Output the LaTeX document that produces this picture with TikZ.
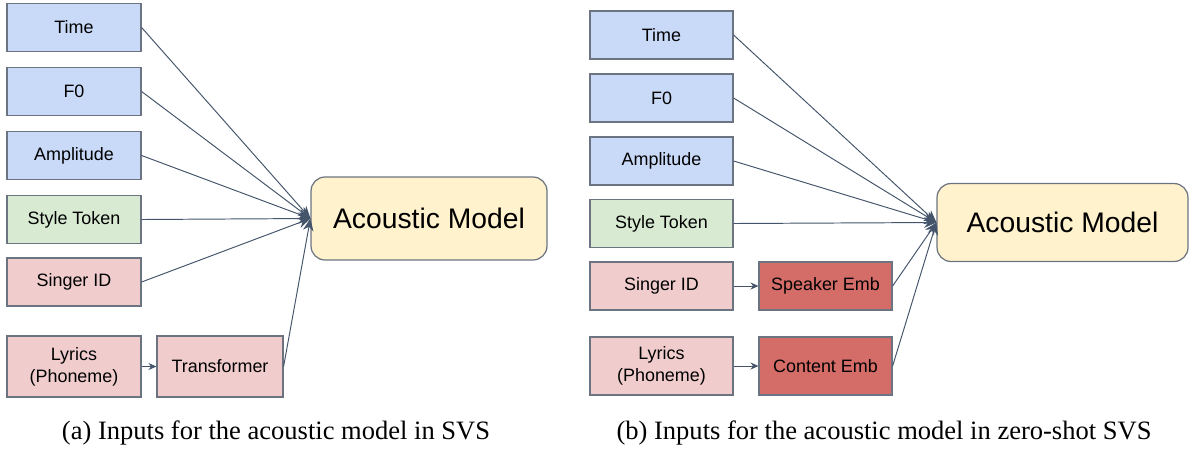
\documentclass[tikz,border=0pt]{standalone}
\usepackage{fontspec}
\setmainfont{Liberation Serif}
\setsansfont{Liberation Sans}
\usetikzlibrary{arrows.meta}
\definecolor{inblue}{HTML}{C9DAF8}
\definecolor{ingreen}{HTML}{D9EAD3}
\definecolor{inpink}{HTML}{F0CDCC}
\definecolor{embred}{HTML}{D46C68}
\definecolor{modelyellow}{HTML}{FFF2CC}
\definecolor{boxline}{HTML}{6B7480}
\definecolor{arrowline}{HTML}{44546A}
\tikzset{
  inbox/.style={draw=boxline, line width=0.7pt, minimum height=0.96cm, inner sep=0pt,
    font=\sffamily\fontsize{10.2}{12.5}\selectfont, align=center},
  modelbox/.style={draw=boxline, line width=0.7pt, fill=modelyellow, rounded corners=0.28cm,
    font=\sffamily\fontsize{16.1}{19}\selectfont, inner sep=0pt},
  feed/.style={draw=arrowline, line width=0.55pt, -{Stealth[length=7pt,width=6pt]}},
  small feed/.style={draw=arrowline, line width=0.55pt, -{Stealth[length=4.5pt,width=4pt]}},
  subcaption/.style={font=\fontsize{15.1}{18}\selectfont}
}

\begin{document}
\begin{tikzpicture}[x=0.02cm, y=-0.02cm]
		%%%%% START %%%%%
		\useasboundingbox (0, 0) rectangle (1195, 451);
		
		% (a) acoustic model in SVS
		\node[inbox, fill=inblue, minimum width=2.68cm] (timeA) at (74, 27.5) {Time};
		\node[inbox, fill=inblue, minimum width=2.68cm] (fzeroA) at (74, 91.5) {F0};
		\node[inbox, fill=inblue, minimum width=2.68cm] (ampA) at (74, 155.5) {Amplitude};
		\node[inbox, fill=ingreen, minimum width=2.68cm] (styleA) at (74, 219.5) {Style Token};
		\node[inbox, fill=inpink, minimum width=2.68cm] (singerA) at (74, 282) {Singer ID};
		\node[inbox, fill=inpink, minimum width=2.68cm, minimum height=1.22cm] (lyricsA) at (74, 366.5) {Lyrics\\(Phoneme)};
		\node[inbox, fill=inpink, minimum width=2.52cm, minimum height=1.22cm] (transA) at (220, 366.5) {Transformer};
		\node[modelbox, minimum width=4.72cm, minimum height=1.66cm] (modelA) at (429, 218.5) {Acoustic Model};
		
		\draw[feed] (timeA.east) -- (modelA.west);
		\draw[feed] (fzeroA.east) -- (modelA.west);
		\draw[feed] (ampA.east) -- (modelA.west);
		\draw[feed] (styleA.east) -- (modelA.west);
		\draw[feed] (singerA.east) -- (modelA.west);
		\draw[feed] (transA.east) -- (modelA.west);
		\draw[small feed] (lyricsA.east) -- (transA.west);
		
		\node[subcaption] (capA) at (276, 433) {(a) Inputs for the acoustic model in SVS};
		
		% (b) acoustic model in zero-shot SVS
		\node[inbox, fill=inblue, minimum width=2.86cm] (timeB) at (661.5, 35) {Time};
		\node[inbox, fill=inblue, minimum width=2.86cm] (fzeroB) at (661.5, 98) {F0};
		\node[inbox, fill=inblue, minimum width=2.86cm] (ampB) at (661.5, 161) {Amplitude};
		\node[inbox, fill=ingreen, minimum width=2.86cm] (styleB) at (661.5, 223.5) {Style Token};
		\node[inbox, fill=inpink, minimum width=2.86cm] (singerB) at (661.5, 286) {Singer ID};
		\node[inbox, fill=inpink, minimum width=2.86cm, minimum height=1.16cm] (lyricsB) at (661.5, 366) {Lyrics\\(Phoneme)};
		\node[inbox, fill=embred, minimum width=2.66cm] (speakerB) at (825.5, 286) {Speaker Emb};
		\node[inbox, fill=embred, minimum width=2.66cm, minimum height=1.16cm] (contentB) at (825.5, 366) {Content Emb};
		\node[modelbox, minimum width=5.02cm, minimum height=1.56cm] (modelB) at (1062.5, 222.5) {Acoustic Model};
		
		\draw[feed] (timeB.east) -- (modelB.west);
		\draw[feed] (fzeroB.east) -- (modelB.west);
		\draw[feed] (ampB.east) -- (modelB.west);
		\draw[feed] (styleB.east) -- (modelB.west);
		\draw[feed] (speakerB.east) -- (modelB.west);
		\draw[feed] (contentB.east) -- (modelB.west);
		\draw[small feed] (singerB.east) -- (speakerB.west);
		\draw[small feed] (lyricsB.east) -- (contentB.west);
		
		\node[subcaption] (capB) at (884, 433) {(b) Inputs for the acoustic model in zero-shot SVS};
		%%%%% END %%%%%
\end{tikzpicture}
\end{document}
